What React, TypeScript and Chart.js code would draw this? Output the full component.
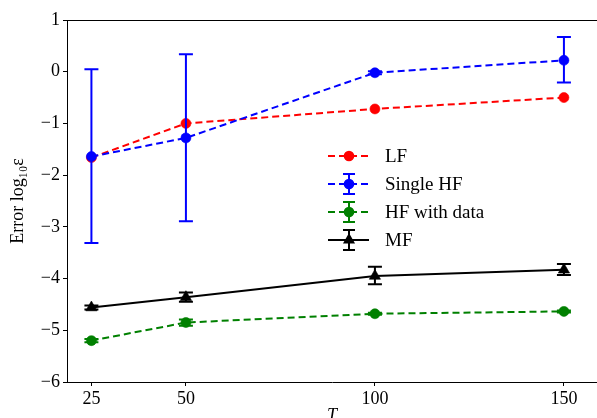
import { useEffect, useRef } from "react";
import { Chart, registerables } from "chart.js";

Chart.register(...registerables);

const T_VALUES = [25, 50, 100, 150];
const X_TICKS = [25, 50, 100, 150];

const LF = [-1.66, -1.0, -0.72, -0.5];

const SINGLE_HF = [-1.64, -1.28, -0.02, 0.22];
const SINGLE_HF_LO = [-3.31, -2.89, -0.05, -0.21];
const SINGLE_HF_HI = [0.05, 0.34, 0.01, 0.67];

const HF_DATA = [-5.2, -4.85, -4.68, -4.635];
const HF_DATA_LO = [-5.23, -4.91, -4.7, -4.655];
const HF_DATA_HI = [-5.17, -4.79, -4.66, -4.615];

const MF = [-4.56, -4.36, -3.95, -3.83];
const MF_LO = [-4.6, -4.45, -4.11, -3.93];
const MF_HI = [-4.52, -4.27, -3.77, -3.72];

const SERIES_LABELS = ["LF", "Single HF", "HF with data", "MF"];

const FONT = "'Liberation Serif', 'DejaVu Serif', serif";

const fmt = (v: number) => (v < 0 ? "\u2212" + Math.abs(v) : String(v));

const errorBarPlugin = {
  id: "errorBars",
  beforeDatasetDraw(chart: any, args: any) {
    const ds = chart.data.datasets[args.index];
    if (!ds.errLo || !ds.errHi) return;
    const xs = chart.scales.x;
    const ys = chart.scales.y;
    const ctx = chart.ctx;
    ctx.save();
    ctx.strokeStyle = ds.borderColor;
    ctx.lineWidth = 2;
    ctx.setLineDash([]);
    const cap = 7;
    ds.data.forEach((pt: any, i: number) => {
      const x = xs.getPixelForValue(pt.x);
      const y1 = ys.getPixelForValue(ds.errLo[i]);
      const y2 = ys.getPixelForValue(ds.errHi[i]);
      ctx.beginPath();
      ctx.moveTo(x, y1);
      ctx.lineTo(x, y2);
      ctx.moveTo(x - cap, y1);
      ctx.lineTo(x + cap, y1);
      ctx.moveTo(x - cap, y2);
      ctx.lineTo(x + cap, y2);
      ctx.stroke();
    });
    ctx.restore();
  },
};

const framePlugin = {
  id: "frameAndLegend",
  afterDraw(chart: any) {
    const ctx = chart.ctx;
    const { left, right, top } = chart.chartArea;
    ctx.save();
    ctx.strokeStyle = "#000";
    ctx.lineWidth = 1;
    ctx.beginPath();
    ctx.moveTo(left, top + 0.5);
    ctx.lineTo(right, top + 0.5);
    ctx.stroke();

    // legend
    const datasets = chart.data.datasets;
    const x0 = 328;
    const x1 = 369;
    const xm = 349;
    const rowY = [156, 184, 212, 240];
    [0, 1, 2, 3].forEach((k) => {
      const ds = datasets[k];
      const y = rowY[k];
      ctx.strokeStyle = ds.borderColor;
      ctx.fillStyle = ds.backgroundColor;
      ctx.lineWidth = 2;
      ctx.setLineDash(ds.borderDash || []);
      ctx.beginPath();
      ctx.moveTo(x0, y);
      ctx.lineTo(x1, y);
      ctx.stroke();
      ctx.setLineDash([]);
      if (ds.errLo) {
        ctx.beginPath();
        ctx.moveTo(xm, y - 10);
        ctx.lineTo(xm, y + 10);
        ctx.moveTo(xm - 6, y - 10);
        ctx.lineTo(xm + 6, y - 10);
        ctx.moveTo(xm - 6, y + 10);
        ctx.lineTo(xm + 6, y + 10);
        ctx.stroke();
      }
      ctx.beginPath();
      if (ds.pointStyle === "triangle") {
        const r = 7;
        ctx.moveTo(xm, y - r);
        ctx.lineTo(xm + r * Math.sin((2 * Math.PI) / 3), y - r * Math.cos((2 * Math.PI) / 3));
        ctx.lineTo(xm + r * Math.sin((4 * Math.PI) / 3), y - r * Math.cos((4 * Math.PI) / 3));
        ctx.closePath();
      } else {
        ctx.arc(xm, y, 5.3, 0, Math.PI * 2);
      }
      ctx.fill();
      ctx.fillStyle = "#000";
      ctx.font = `19px ${FONT}`;
      ctx.textBaseline = "middle";
      ctx.textAlign = "left";
      ctx.fillText(SERIES_LABELS[k], 385, y + 1);
    });
    ctx.restore();
  },
};

const toPts = (ys: number[]) => T_VALUES.map((x, i) => ({ x, y: ys[i] }));

export default function App() {
  const ref = useRef<HTMLCanvasElement | null>(null);

  useEffect(() => {
    if (!ref.current) return;
    const chart = new Chart(ref.current, {
      type: "line",
      data: {
        datasets: [
          {
            label: SERIES_LABELS[0],
            data: toPts(LF),
            borderColor: "#ff0000",
            backgroundColor: "#ff0000",
            borderDash: [7, 4],
            borderWidth: 2,
            pointStyle: "circle",
            pointRadius: 5,
            pointBorderWidth: 0.6,
            order: 4,
          } as any,
          {
            label: SERIES_LABELS[1],
            data: toPts(SINGLE_HF),
            errLo: SINGLE_HF_LO,
            errHi: SINGLE_HF_HI,
            borderColor: "#0000ff",
            backgroundColor: "#0000ff",
            borderDash: [7, 4],
            borderWidth: 2,
            pointStyle: "circle",
            pointRadius: 5,
            pointBorderWidth: 0.6,
            order: 3,
          } as any,
          {
            label: SERIES_LABELS[2],
            data: toPts(HF_DATA),
            errLo: HF_DATA_LO,
            errHi: HF_DATA_HI,
            borderColor: "#008000",
            backgroundColor: "#008000",
            borderDash: [7, 4],
            borderWidth: 2,
            pointStyle: "circle",
            pointRadius: 5,
            pointBorderWidth: 0.6,
            order: 2,
          } as any,
          {
            label: SERIES_LABELS[3],
            data: toPts(MF),
            errLo: MF_LO,
            errHi: MF_HI,
            borderColor: "#000000",
            backgroundColor: "#000000",
            borderWidth: 2,
            pointStyle: "triangle",
            pointRadius: 6.5,
            pointBorderWidth: 0.6,
            order: 1,
          } as any,
        ],
      },
      options: {
        animation: false,
        responsive: false,
        devicePixelRatio: 1,
        layout: { autoPadding: false, padding: { top: 20, left: 0, right: 0, bottom: 0 } },
        plugins: {
          legend: { display: false },
          tooltip: { enabled: false },
        },
        scales: {
          x: {
            type: "linear",
            min: 18.54,
            max: 158.75,
            afterBuildTicks: (scale: any) => {
              scale.ticks = X_TICKS.map((v) => ({ value: v }));
            },
            afterFit: (scale: any) => {
              scale.height = 36;
              scale.paddingLeft = 0;
              scale.paddingRight = 0;
            },
            grid: {
              drawOnChartArea: false,
              drawTicks: true,
              tickLength: 4,
              color: "#000",
              lineWidth: 1,
            },
            border: { color: "#000", width: 1 },
            ticks: {
              color: "#000",
              padding: 2,
              maxRotation: 0,
              font: { family: FONT, size: 18 },
              callback: (v: any) => fmt(Number(v)),
            },
            title: {
              display: true,
              text: "T",
              color: "#000",
              font: { family: FONT, size: 18, style: "italic", lineHeight: 1 },
              padding: { top: 0, bottom: -7 },
            },
          },
          y: {
            type: "linear",
            min: -6,
            max: 1,
            afterFit: (scale: any) => {
              scale.width = 67;
              scale.paddingTop = 0;
              scale.paddingBottom = 0;
            },
            grid: {
              drawOnChartArea: false,
              drawTicks: true,
              tickLength: 4,
              color: "#000",
              lineWidth: 1,
            },
            border: { color: "#000", width: 1 },
            ticks: {
              stepSize: 1,
              color: "#000",
              padding: 3,
              font: { family: FONT, size: 18 },
              callback: (v: any) => fmt(Number(v)),
            },
            title: {
              display: true,
              text: "Error log\u2081\u2080\u03b5",
              color: "#000",
              font: { family: FONT, size: 18, lineHeight: 1.2 },
              padding: { top: 7, bottom: 0 },
            },
          },
        },
      },
      plugins: [errorBarPlugin, framePlugin],
    } as any);
    return () => chart.destroy();
  }, []);

  return (
    <div style={{ position: "absolute", left: 0, top: 0, width: 597, height: 418 }}>
      <canvas ref={ref} width={597} height={418} style={{ display: "block" }} />
    </div>
  );
}
